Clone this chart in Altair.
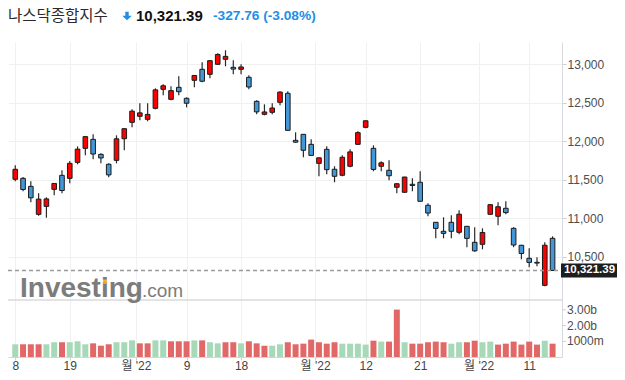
import json
import altair as alt
import pandas as pd

# ---------------- data ----------------
title_name = "나스닥종합지수"
last_text = "10,321.39"
change_text = "-327.76 (-3.08%)"
last_price = 10321.39

opens = [11506, 11518, 11414, 11050, 11154, 11375, 11557, 11518, 11726, 11908,
         12025, 11830, 11701, 11752, 12033, 12246, 12324, 12285, 12428, 12675,
         12545, 12701, 12558, 12792, 12935, 12870, 13000, 13065, 12961, 12935,
         12831, 12519, 12350, 12376, 12506, 12623, 12012, 12090, 11960, 11713,
         11895, 11636, 11558, 11675, 11960, 12181, 11908, 11675, 11623, 11402,
         11337, 11441, 11467, 11168, 10947, 10830, 10947, 10817, 10895, 10687,
         10661, 11051, 11025, 11129, 10869, 10648, 10479, 10427, 10128, 10739]
highs = [11687, 11535, 11479, 11323, 11271, 11457, 11622, 11743, 11934, 12065,
         12090, 11843, 11713, 12077, 12168, 12415, 12493, 12493, 12688, 12740,
         12714, 12844, 12571, 12857, 13026, 13055, 13143, 13182, 13052, 13000,
         12857, 12532, 12480, 12493, 12649, 12649, 12116, 12095, 12025, 11790,
         11934, 11675, 11817, 11895, 12129, 12270, 11947, 11739, 11752, 11454,
         11540, 11519, 11610, 11194, 10950, 11012, 11038, 11103, 10898, 10882,
         10869, 11180, 11207, 11220, 10882, 10655, 10609, 10492, 10687, 10765]
lows = [11479, 11349, 11206, 11032, 11007, 11297, 11323, 11454, 11700, 11817,
        11765, 11713, 11532, 11713, 11882, 12181, 12272, 12259, 12415, 12597,
        12532, 12597, 12441, 12701, 12766, 12818, 12995, 12974, 12870, 12870,
        12675, 12350, 12337, 12350, 12467, 12135, 11980, 11792, 11810, 11545,
        11571, 11467, 11545, 11662, 11955, 12168, 11610, 11610, 11493, 11324,
        11330, 11350, 11215, 11025, 10739, 10739, 10739, 10791, 10622, 10565,
        10596, 11045, 10908, 11051, 10622, 10466, 10362, 10375, 10115, 10316]
closes = [11636, 11373, 11265, 11248, 11251, 11452, 11360, 11713, 11898, 12060,
          11834, 11783, 11563, 12032, 12163, 12391, 12369, 12349, 12668, 12721,
          12658, 12644, 12494, 12855, 12780, 13047, 13128, 13103, 12938, 12965,
          12705, 12382, 12381, 12432, 12639, 12142, 11988, 11883, 11816, 11785,
          11631, 11545, 11792, 11862, 12112, 12266, 11634, 11720, 11552, 11448,
          11535, 11425, 11220, 11067, 10868, 10803, 10830, 11052, 10738, 10576,
          10815, 11176, 11149, 11073, 10652, 10542, 10426, 10417, 10649, 10321.39]
# volume in billions, and whether the bar is the "up" (green) colour
volumes = [0.81, 0.81, 0.81, 0.81, 0.81, 0.94, 0.94, 0.94, 1.00, 0.81,
           0.87, 0.72, 0.81, 0.94, 0.94, 1.06, 0.87, 0.87, 1.06, 1.06,
           1.00, 1.00, 1.00, 1.06, 1.06, 0.94, 0.87, 0.94, 0.94, 0.87,
           1.00, 0.87, 0.72, 0.72, 0.81, 0.94, 0.81, 0.85, 1.11, 0.94,
           0.85, 0.94, 0.85, 0.85, 0.85, 0.79, 1.04, 0.98, 0.98, 3.02,
           0.94, 0.85, 0.85, 0.94, 0.98, 0.94, 0.85, 0.94, 0.94, 1.04,
           0.94, 0.98, 0.79, 0.85, 0.98, 0.79, 0.98, 0.79, 1.04, 0.85]
volume_up = [1, 0, 0, 0, 1, 1, 0, 1, 1, 1,
             0, 0, 0, 1, 1, 1, 0, 0, 1, 1,
             0, 0, 0, 1, 0, 1, 1, 0, 0, 1,
             0, 0, 0, 1, 1, 0, 0, 0, 0, 0,
             0, 0, 1, 1, 1, 1, 0, 1, 0, 0,
             1, 0, 0, 0, 0, 0, 1, 1, 0, 0,
             1, 1, 0, 0, 0, 0, 0, 0, 1, 0]

tick_pos = [0, 7, 15.5, 22, 29, 38.5, 45, 52, 59.5, 66]
tick_labels = ["8", "19", "월 '22", "9", "18", "월 '22", "12", "21", "월 '22", "11"]
price_ticks = [10500, 11000, 11500, 12000, 12500, 13000]
vol_ticks = [1, 2, 3]
vol_tick_labels = ["1000m", "2.00b", "3.00b"]

# ---------------- frames ----------------
n = len(closes)
df = pd.DataFrame({
    "i": list(range(n)),
    "open": opens, "high": highs, "low": lows, "close": closes,
    "dir": ["up" if c >= o else "down" for o, c in zip(opens, closes)],
    "vol": volumes,
    "vdir": ["up" if u else "down" for u in volume_up],
})
last_df = pd.DataFrame({"p": [last_price], "t": [last_text]})
vt_df = pd.DataFrame({"v": vol_ticks, "t": vol_tick_labels})

# ---------------- layout ----------------
W, H = 554, 315
xs = alt.Scale(domain=[-0.29, 69.57], nice=False, zero=False)
ps = alt.Scale(domain=[9196.7, 13289.8], nice=False, zero=False)
vs = alt.Scale(domain=[0, 20.06], nice=False, zero=True)

label_expr = "{}[indexof({}, datum.value)]".format(
    json.dumps(tick_labels, ensure_ascii=False), json.dumps(tick_pos))
xaxis = alt.Axis(values=tick_pos, labelExpr=label_expr, grid=True, gridColor="#f1f1f1",
                 domainColor="#d6d6d6", tickColor="#cfcfcf", tickSize=3, labelPadding=0,
                 labelFontSize=12, labelColor="#444444",
                 labelFont="Liberation Sans, Noto Sans CJK KR",
                 labelFlush=False, labelOverlap=False, title=None)
paxis = alt.Axis(orient="right", values=price_ticks,
                 labelExpr="format(datum.value, ',')", grid=True,
                 gridColor="#f0f0f0", domainColor="#d9d9e0", tickColor="#cfcfcf",
                 tickSize=4, labelPadding=1, labelFontSize=12, labelColor="#4d4d4d",
                 labelFont="Liberation Sans", title=None)


def X():
    return alt.X("i:Q", scale=xs, axis=xaxis)


def YP(field):
    return alt.Y(field, scale=ps, axis=paxis)


base = alt.Chart(df)

wicks = base.mark_rule(color="#2a2a2a", strokeWidth=1.2).encode(
    x=X(), y=YP("low:Q"), y2=alt.Y2("high:Q"))
bodies = base.mark_bar(size=4.6, stroke="#1a1a1a", strokeWidth=1).encode(
    x=X(), y=YP("open:Q"), y2=alt.Y2("close:Q"),
    fill=alt.Fill("dir:N", scale=alt.Scale(domain=["up", "down"],
                                           range=["#ff0000", "#4297d8"]), legend=None))
dash = alt.Chart(last_df).mark_rule(strokeDash=[4, 3], color="#9a9a9a", strokeWidth=1.4).encode(
    y=YP("p:Q"), x=alt.value(0), x2=alt.value(W))
box = alt.Chart(last_df).mark_rect(color="#1e1e1e", yOffset=-7, y2Offset=7).encode(
    y=YP("p:Q"), y2=alt.Y2("p:Q"), x=alt.value(W - 1), x2=alt.value(W + 55))
box_text = alt.Chart(last_df).mark_text(color="white", fontWeight="bold", fontSize=11.5,
                                        font="Liberation Sans", align="center",
                                        baseline="middle").encode(
    y=YP("p:Q"), x=alt.value(W + 27.5), text="t:N")

price_layer = alt.layer(wicks, bodies, dash, box, box_text)

vbars = base.mark_bar(size=6).encode(
    x=X(), y=alt.Y("vol:Q", scale=vs, axis=None),
    fill=alt.Fill("vdir:N", scale=alt.Scale(domain=["up", "down"],
                                            range=["#a7d8b8", "#e26868"]), legend=None))
vlabels = alt.Chart(vt_df).mark_text(align="left", baseline="middle", fontSize=12,
                                     font="Liberation Sans", color="#4d4d4d").encode(
    y=alt.Y("v:Q", scale=vs, axis=None), x=alt.value(W + 5), text="t:N")
vticks = alt.Chart(vt_df).mark_rule(color="#cfcfcf").encode(
    y=alt.Y("v:Q", scale=vs, axis=None), x=alt.value(W), x2=alt.value(W + 4))
volume_layer = alt.layer(vbars, vlabels, vticks)

# decorations
one = pd.DataFrame({"t": [""]})
separator = alt.Chart(one).mark_rule(color="#c8c8c8", strokeWidth=1).encode(
    y=alt.value(258), x=alt.value(0), x2=alt.value(W))
wm1 = alt.Chart(pd.DataFrame({"t": ["Investing"]})).mark_text(
    align="left", baseline="alphabetic", font="Liberation Sans", fontSize=28,
    fontWeight="bold", color="#7c7c7c").encode(x=alt.value(12), y=alt.value(255), text="t:N")
wm2 = alt.Chart(pd.DataFrame({"t": [".com"]})).mark_text(
    align="left", baseline="alphabetic", font="Liberation Sans", fontSize=19,
    color="#7c7c7c").encode(x=alt.value(134), y=alt.value(255), text="t:N")
wm_dot = alt.Chart(one).mark_point(shape="square", filled=True, size=14, color="#f4a52a",
                                   opacity=1).encode(x=alt.value(97), y=alt.value(240))
TY = -26.5
t_name = alt.Chart(pd.DataFrame({"t": [title_name]})).mark_text(
    align="left", baseline="middle", font="Noto Sans CJK KR", fontSize=15.5,
    color="#2b2b2b").encode(x=alt.value(0), y=alt.value(TY), text="t:N")
arrow = alt.Chart(one).mark_point(
    shape="M-0.34,-0.85 L0.34,-0.85 L0.34,-0.05 L0.95,-0.05 L0,0.85 L-0.95,-0.05 L-0.34,-0.05 Z",
    filled=True, size=100, color="#248ee6", opacity=1).encode(
    x=alt.value(119), y=alt.value(TY + 0.5))
t_last = alt.Chart(pd.DataFrame({"t": [last_text]})).mark_text(
    align="left", baseline="middle", font="Liberation Sans", fontSize=15,
    fontWeight="bold", color="#111111").encode(x=alt.value(128), y=alt.value(TY), text="t:N")
t_chg = alt.Chart(pd.DataFrame({"t": [change_text]})).mark_text(
    align="left", baseline="middle", font="Liberation Sans", fontSize=13.7,
    fontWeight="bold", color="#248ee6").encode(x=alt.value(205), y=alt.value(TY), text="t:N")

chart = alt.layer(
    separator, wm1, wm2, wm_dot,
    volume_layer, price_layer,
    t_name, arrow, t_last, t_chg,
).resolve_scale(y="independent", fill="independent").properties(
    width=W, height=H,
    autosize=alt.AutoSizeParams(type="none"),
    padding={"left": 0, "top": 34, "right": 55, "bottom": 15},
    background="white",
).configure_view(stroke=None)

chart.save("out.html", embed_options={"renderer": "svg", "actions": False})
